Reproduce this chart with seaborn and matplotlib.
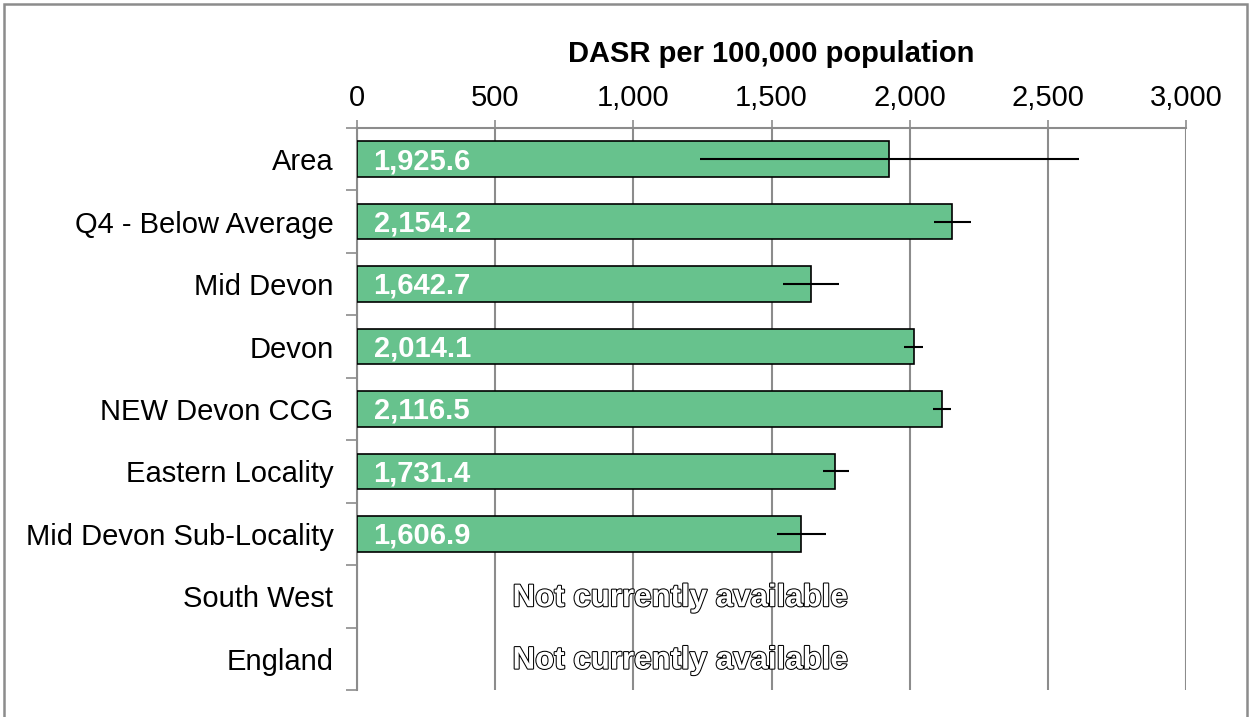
import pandas as pd
import matplotlib.pyplot as plt
import matplotlib.patheffects as pe
from matplotlib.patches import Rectangle
from matplotlib.ticker import FuncFormatter, FixedLocator
import seaborn as sns
import numpy as np

areas = ["Area", "Q4 - Below Average", "Mid Devon", "Devon", "NEW Devon CCG",
         "Eastern Locality", "Mid Devon Sub-Locality", "South West", "England"]
dasr = [1925.6, 2154.2, 1642.7, 2014.1, 2116.5, 1731.4, 1606.9, np.nan, np.nan]
ci_lower = [1241, 2088, 1541, 1980, 2083, 1685, 1520, np.nan, np.nan]
ci_upper = [2613, 2221, 1746, 2049, 2151, 1779, 1696, np.nan, np.nan]

x_ticks = [0, 500, 1000, 1500, 2000, 2500, 3000]
missing_text = "Not currently available"

bar_color = "#67C28D"
grid_color = "#8c8c8c"
fs = 21

df = pd.DataFrame({"area": areas, "dasr": dasr, "lo": ci_lower, "hi": ci_upper})
avail = df.dropna()

sns.set_theme(style="white")
plt.rcParams["font.family"] = ["Liberation Sans", "DejaVu Sans"]
plt.rcParams["text.color"] = "black"

fig = plt.figure(figsize=(12.5, 7.17), dpi=100)
ax = fig.add_axes([0.2856, 0.0377, 0.6632, 0.7838])

sns.barplot(data=avail, x="dasr", y="area", order=areas, color=bar_color,
            saturation=1, edgecolor="black", linewidth=1.2, width=0.57, ax=ax, zorder=3)

# confidence intervals
pos = [areas.index(a) for a in avail["area"]]
ax.errorbar(avail["dasr"], pos,
            xerr=[avail["dasr"] - avail["lo"], avail["hi"] - avail["dasr"]],
            fmt="none", ecolor="black", elinewidth=1.5, capsize=0, zorder=4)

# value labels inside bars
for p, v in zip(pos, avail["dasr"]):
    ax.text(60, p + 0.03, f"{v:,.1f}", color="white", fontsize=fs,
            fontweight="bold", va="center", ha="left", zorder=5)

# missing categories
for i, a in enumerate(areas):
    if np.isnan(dasr[i]):
        ax.text(1169, i + 0.03, missing_text, color="white", fontsize=22.5,
                fontweight="bold", va="center", ha="center", zorder=5,
                path_effects=[pe.Stroke(linewidth=1.5, foreground="black"), pe.Normal()])

ax.set_xlim(0, 3000)
ax.set_ylim(len(areas) - 0.5, -0.5)
ax.xaxis.tick_top()
ax.xaxis.set_label_position("top")
ax.set_xticks(x_ticks)
ax.xaxis.set_major_formatter(FuncFormatter(lambda v, _: f"{v:,.0f}"))
ax.set_xlabel("DASR per 100,000 population", fontsize=fs, fontweight="bold",
              labelpad=16, color="black")
ax.set_ylabel("")
ax.grid(axis="x", color=grid_color, linewidth=1.5, zorder=0)
ax.set_axisbelow(True)

ax.tick_params(axis="x", which="major", top=True, bottom=False, length=6, width=1.2,
               color=grid_color, pad=5.5, labelsize=fs, labelcolor="black")
ax.tick_params(axis="y", which="major", left=False, length=0, pad=17,
               labelsize=fs, labelcolor="black")
ax.yaxis.set_minor_locator(FixedLocator(np.arange(len(areas) + 1) - 0.5))
ax.tick_params(axis="y", which="minor", left=True, length=8, width=1.2, color=grid_color)

for s in ["right", "bottom"]:
    ax.spines[s].set_visible(False)
for s in ["top", "left"]:
    ax.spines[s].set_color(grid_color)
    ax.spines[s].set_linewidth(1.5)

# outer frame
fig.patches.append(Rectangle((4 / 1250, -0.1), 1243 / 1250, 1.1 - 4 / 717,
                             transform=fig.transFigure, fill=False,
                             edgecolor="#8c8c8c", linewidth=1.8))

fig.savefig("out.png", dpi=100)
